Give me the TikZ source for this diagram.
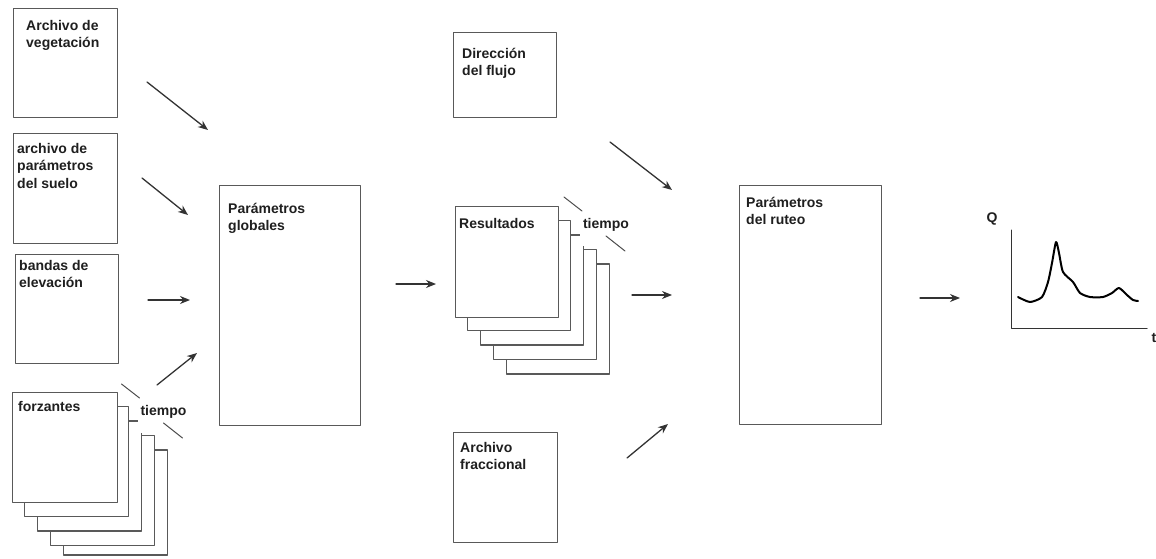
\documentclass[tikz,border=0pt]{standalone}
\usepackage{fontspec}
\setmainfont{Liberation Sans}
\usetikzlibrary{arrows.meta}
\begin{document}
\begin{tikzpicture}[x=1pt, y=-1pt, line join=round, line cap=round, >={Stealth[length=10pt,width=8pt]},
 font=\fontsize{14}{17.5}\selectfont\bfseries,
 caja/.style={draw=black!65, line width=1.3pt, fill=white, anchor=north west, inner sep=0pt, minimum width=104pt, minimum height=110pt},
 hoja/.style={draw=black!65, line width=1.3pt, fill=white},
 rotulo/.style={anchor=north west, inner sep=0pt, align=left, text=black!88},
 flecha/.style={->, black!80, line width=1.3pt},
 marca/.style={black!70, line width=1pt},
 tiempo/.style={anchor=base, fill=white, inner xsep=3pt, inner ysep=2pt, text depth=16pt, text=black!88}]
 \useasboundingbox (0,0) rectangle (1156,559);
 % archivos de entrada
 \node[caja, minimum height=109pt] (veg) at (13,8) {};
 \node[rotulo] at ([shift={(13,12)}]veg.north west) {Archivo de\\vegetación};
 \node[caja] (suelo) at (13,133) {};
 \node[rotulo] at ([shift={(4,10)}]suelo.north west) {archivo de\\parámetros\\del suelo};
 \node[caja, minimum width=103pt, minimum height=109pt] (bandas) at (15,254) {};
 \node[rotulo] at ([shift={(4,6)}]bandas.north west) {bandas de\\elevación};
 \foreach \i/\h in {4/105,3/110,2/110,1/110} \draw[hoja] (12+\i*12.8, 392+\i*14.5) rectangle +(104,\h);
 \node[caja, minimum width=105pt] (forz) at (12,392) {};
 \node[rotulo] at ([shift={(6,9)}]forz.north west) {forzantes};
 \node[tiempo] (tf) at (163.5,415) {tiempo};
 \draw[marca] ([shift={(-42,-31)}]tf.base) -- +(18,14);
 \draw[marca] ([shift={(0,8)}]tf.base) -- +(19,15);
 \node[caja, minimum width=141pt, minimum height=240pt] (glob) at (219,185) {};
 \node[rotulo] at ([shift={(9,18)}]glob.north west) {Parámetros\\globales};
 % salida del modelo
 \node[caja, minimum width=103pt, minimum height=85pt] (dir) at (453,32) {};
 \node[rotulo] at ([shift={(9,16)}]dir.north west) {Dirección\\del flujo};
 \foreach \i in {4,...,1} \draw[hoja] (455+\i*12.8, 206+\i*14.5) rectangle +(103,110);
 \node[caja, minimum width=103pt, minimum height=111pt] (res) at (455,206) {};
 \node[rotulo] at ([shift={(4,12)}]res.north west) {Resultados};
 \node[tiempo] (tr) at (606,228) {tiempo};
 \draw[marca] ([shift={(-42,-31)}]tr.base) -- +(18,14);
 \draw[marca] ([shift={(0,8)}]tr.base) -- +(19,15);
 \node[caja] (frac) at (453,432) {};
 \node[rotulo] at ([shift={(7,10)}]frac.north west) {Archivo\\fraccional};
 \node[caja, minimum width=142pt, minimum height=239pt] (ruteo) at (739,185) {};
 \node[rotulo] at ([shift={(7,12)}]ruteo.north west) {Parámetros\\del ruteo};
 % hidrograma
 \coordinate (o) at (1011,328);
 \draw[black!80, line width=1pt] (1011,230) -- (o) -- (1147,328);
 \node[text=black!88] (q) at (992,219) {Q};
 \node[anchor=west, text=black!88] (t) at (1148,338) {t};
 \draw[black, line width=2pt] plot[smooth, tension=0.4] coordinates {(1018,297) (1030,302) (1042,297) (1048,282) (1052,263) (1056,242) (1059,253) (1063,272) (1073,282) (1080,293) (1090,297) (1103,297) (1112,293) (1119,288) (1127,295) (1133,300) (1138,301)};
 % flechas
 \coordinate (e1) at (147,82);  \coordinate (f1) at (208,130);
 \coordinate (e2) at (142,178); \coordinate (f2) at (188,215);
 \coordinate (e3) at (148,300); \coordinate (f3) at (190,300);
 \coordinate (e4) at (157,385); \coordinate (f4) at (197,353);
 \coordinate (e5) at (396,284); \coordinate (f5) at (436,284);
 \coordinate (e6) at (610,142); \coordinate (f6) at (672,190);
 \coordinate (e7) at (632,295); \coordinate (f7) at (672,295);
 \coordinate (e8) at (627,458); \coordinate (f8) at (668,424);
 \coordinate (e9) at (920,298); \coordinate (f9) at (960,298);
 \foreach \k in {1,...,9} \draw[flecha] (e\k) -- (f\k);
\end{tikzpicture}
\end{document}
